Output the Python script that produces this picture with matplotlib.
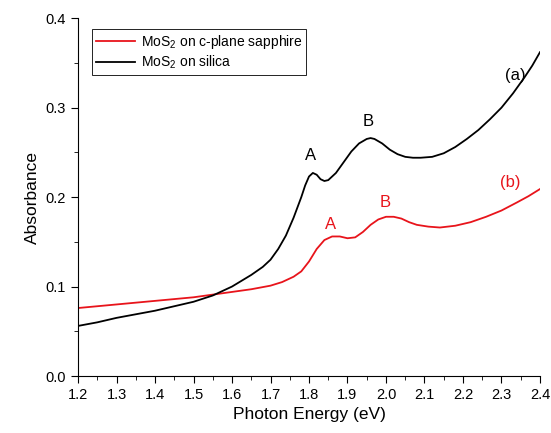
import numpy as np
import matplotlib.pyplot as plt
from matplotlib.ticker import MultipleLocator

plt.rcParams['font.family'] = ['Liberation Sans', 'DejaVu Sans']
plt.rcParams['mathtext.fontset'] = 'custom'
plt.rcParams['mathtext.rm'] = 'Liberation Sans'
plt.rcParams['mathtext.it'] = 'Liberation Sans:italic'

# MoS2 on silica (a)
energy_a = [1.20, 1.25, 1.30, 1.35, 1.40, 1.45, 1.50, 1.55, 1.60, 1.65, 1.68, 1.70,
            1.72, 1.74, 1.76, 1.78, 1.79, 1.80, 1.81, 1.82, 1.83, 1.84, 1.85, 1.87,
            1.89, 1.91, 1.93, 1.95, 1.96, 1.97, 1.99, 2.01, 2.03, 2.05, 2.07, 2.09,
            2.12, 2.15, 2.18, 2.21, 2.24, 2.27, 2.30, 2.33, 2.36, 2.38, 2.40]
abs_a = [0.056, 0.060, 0.065, 0.069, 0.073, 0.078, 0.083, 0.090, 0.100, 0.113, 0.122, 0.130,
         0.142, 0.157, 0.177, 0.200, 0.213, 0.223, 0.227, 0.225, 0.220, 0.218, 0.219, 0.227,
         0.239, 0.251, 0.260, 0.265, 0.266, 0.265, 0.260, 0.253, 0.248, 0.245, 0.244, 0.244,
         0.245, 0.249, 0.256, 0.265, 0.275, 0.287, 0.300, 0.316, 0.334, 0.347, 0.362]

# MoS2 on c-plane sapphire (b)
energy_b = [1.20, 1.30, 1.40, 1.50, 1.55, 1.60, 1.65, 1.70, 1.73, 1.76, 1.78, 1.80,
            1.82, 1.84, 1.86, 1.88, 1.90, 1.92, 1.94, 1.96, 1.98, 2.00, 2.02, 2.04,
            2.06, 2.08, 2.11, 2.14, 2.18, 2.22, 2.26, 2.30, 2.34, 2.37, 2.40]
abs_b = [0.076, 0.080, 0.084, 0.088, 0.091, 0.094, 0.097, 0.101, 0.105, 0.111, 0.117, 0.128,
         0.142, 0.152, 0.156, 0.156, 0.154, 0.155, 0.161, 0.169, 0.175, 0.178, 0.178, 0.176,
         0.172, 0.169, 0.167, 0.166, 0.168, 0.172, 0.178, 0.185, 0.194, 0.201, 0.209]

red = '#e8141b'

fig = plt.figure(figsize=(5.51, 4.33), dpi=100)
ax = fig.add_axes([0.1416, 0.1316, 0.8384, 0.8264])

ax.plot(energy_b, abs_b, color=red, lw=1.3, label='MoS$_2$ on c-plane sapphire')
ax.plot(energy_a, abs_a, color='black', lw=1.3, label='MoS$_2$ on silica')

ax.text(2.335, 0.336, '(a)', color='black', fontsize=12, ha='center', va='center')
ax.text(2.322, 0.216, '(b)', color=red, fontsize=12, ha='center', va='center')
ax.text(1.803, 0.247, 'A', color='black', fontsize=12, ha='center', va='center')
ax.text(1.953, 0.285, 'B', color='black', fontsize=12, ha='center', va='center')
ax.text(1.857, 0.169, 'A', color=red, fontsize=12, ha='center', va='center')
ax.text(1.997, 0.194, 'B', color=red, fontsize=12, ha='center', va='center')

ax.set_xlim(1.2, 2.4)
ax.set_ylim(0.0, 0.4)
ax.xaxis.set_major_locator(MultipleLocator(0.1))
ax.xaxis.set_minor_locator(MultipleLocator(0.05))
ax.yaxis.set_major_locator(MultipleLocator(0.1))
ax.yaxis.set_minor_locator(MultipleLocator(0.05))
ax.xaxis.set_major_formatter(plt.FormatStrFormatter('%.1f'))
ax.yaxis.set_major_formatter(plt.FormatStrFormatter('%.1f'))
ax.tick_params(which='major', direction='out', length=5, labelsize=10.5)
ax.tick_params(which='minor', direction='out', length=3)
ax.spines['top'].set_visible(False)
ax.spines['right'].set_visible(False)

ax.set_xlabel('Photon Energy (eV)', fontsize=12.5)
ax.set_ylabel('Absorbance', fontsize=12.5)

leg = ax.legend(loc='upper left', bbox_to_anchor=(0.015, 0.99), fontsize=10,
                frameon=True, fancybox=False, edgecolor='black', framealpha=1,
                borderpad=0.3, labelspacing=0.2, handlelength=2.8, handletextpad=0.4)
leg.get_frame().set_linewidth(0.6)

fig.savefig('out.png', dpi=100)
